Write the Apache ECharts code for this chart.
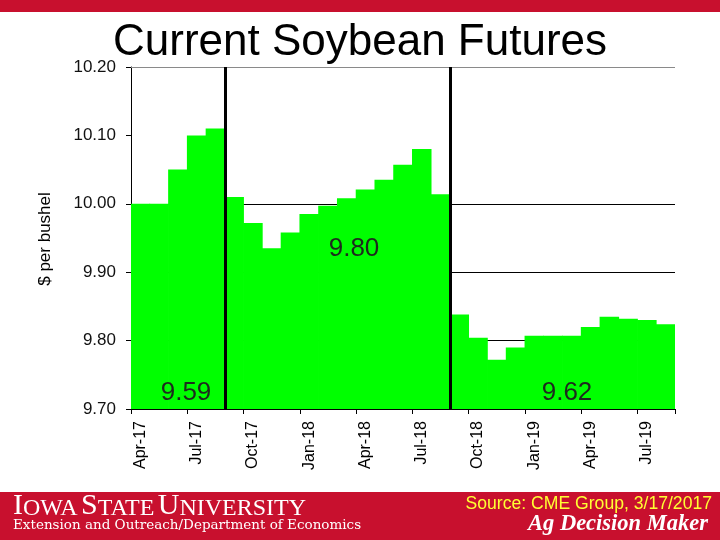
<!DOCTYPE html>
<html><head><meta charset="utf-8">
<script src="https://cdn.jsdelivr.net/npm/echarts@6/dist/echarts.min.js"></script>
<style>html,body{margin:0;padding:0;background:#fff}#c{width:720px;height:540px}</style>
</head><body><div id="c"></div>
<script>
// Monthly contract months (Apr-17 .. Aug-19)
const months = ['Apr-17','May-17','Jun-17','Jul-17','Aug-17','Sep-17','Oct-17','Nov-17','Dec-17',
  'Jan-18','Feb-18','Mar-18','Apr-18','May-18','Jun-18','Jul-18','Aug-18','Sep-18','Oct-18','Nov-18','Dec-18',
  'Jan-19','Feb-19','Mar-19','Apr-19','May-19','Jun-19','Jul-19','Aug-19'];
// $ per bushel
const prices = [10.00,10.00,10.05,10.10,10.11,10.01,9.972,9.935,9.958,
  9.985,9.997,10.008,10.021,10.035,10.057,10.080,10.014,9.838,9.804,9.772,9.790,
  9.807,9.807,9.807,9.820,9.835,9.832,9.830,9.824];
const yMin = 9.70, yMax = 10.20, yStep = 0.10;
const gridLevels = [9.80, 9.90, 10.00];
const topLevel = [10.20];
const rollBoundaries = [5, 17];           // month index where a new crop year starts
const averageLabels = ['9.59', '9.80', '9.62'];
const titleText = 'Current Soybean Futures';
const yAxisName = '$ per bushel';
const sourceText = 'Source: CME Group, 3/17/2017';

const chart = echarts.init(document.getElementById('c'), null, {renderer:'canvas'});
const red = '#C8102E';
const green = '#00FF00';
const sans = 'Liberation Sans, Arial, sans-serif';
const serif = 'Liberation Serif, Times New Roman, serif';

chart.setOption({
  animation: false,
  backgroundColor: '#fff',
  grid: {left:131, right:45, top:67, bottom:131, containLabel:false},
  xAxis: [{
    type:'category', data: months, boundaryGap:true,
    axisLine:{show:true, lineStyle:{color:'#000', width:1}},
    axisTick:{show:true, interval:(i)=> i%3===0, length:5, lineStyle:{color:'#000'}},
    axisLabel:{interval:(i)=> i%3===0, rotate:90, margin:12, fontSize:16, color:'#000', fontFamily:sans},
    splitLine:{show:false}
  },{
    type:'value', min:0, max:months.length, show:false
  }],
  yAxis: {
    type:'value', min:yMin, max:yMax, interval:yStep,
    splitLine:{show:false},
    axisLine:{show:true, lineStyle:{color:'#000', width:1}},
    axisTick:{show:true, length:5, lineStyle:{color:'#000'}},
    axisLabel:{formatter:(v)=>v.toFixed(2), fontSize:17, margin:15, color:'#111', fontFamily:sans}
  },
  series: [
    {type:'line', xAxisIndex:1, data:[], z:1, silent:true,
      markLine:{z:1, silent:true, symbol:'none', animation:false, label:{show:false},
        lineStyle:{color:'#000', width:1, type:'solid'},
        data: gridLevels.map(v=>({yAxis:v})).concat(topLevel.map(v=>({yAxis:v, lineStyle:{color:'#8a8a8a', width:1, type:'solid'}})))}},
    {type:'bar', data: prices, z:3, barWidth:'104%',
      itemStyle:{color:green}, emphasis:{disabled:true}},
    {type:'line', xAxisIndex:1, data:[], z:6, silent:true,
      markLine:{z:6, silent:true, symbol:'none', animation:false, label:{show:false},
        lineStyle:{color:'#000', width:3, type:'solid'},
        data: rollBoundaries.map(v=>({xAxis:v}))}}
  ],
  graphic: [
    {type:'rect', shape:{x:0,y:0,width:720,height:12}, style:{fill:red}, z:10},
    {type:'rect', shape:{x:0,y:492,width:720,height:48}, style:{fill:red}, z:10},
    {type:'text', x:360, y:43, style:{text:titleText, font:'44px '+sans, fill:'#000', align:'center', verticalAlign:'middle'}, z:10},
    {type:'text', x:45, y:239, rotation:Math.PI/2, style:{text:yAxisName, font:'17px '+sans, fill:'#000', align:'center', verticalAlign:'middle'}, z:10},
    {type:'text', x:186, y:393, style:{text:averageLabels[0], font:'26px '+sans, fill:'#1e2a1e', align:'center', verticalAlign:'middle'}, z:10},
    {type:'text', x:354, y:249, style:{text:averageLabels[1], font:'26px '+sans, fill:'#1e2a1e', align:'center', verticalAlign:'middle'}, z:10},
    {type:'text', x:567, y:393, style:{text:averageLabels[2], font:'26px '+sans, fill:'#1e2a1e', align:'center', verticalAlign:'middle'}, z:10},
    {type:'text', x:13, y:521, z:11, style:{
      text:'{b|I}{s|OWA} {b|S}{s|TATE} {b|U}{s|NIVERSITY}', align:'left', verticalAlign:'bottom',
      rich:{b:{fontSize:30, fontFamily:serif, fill:'#fff', color:'#fff', verticalAlign:'bottom'}, s:{fontSize:24, fontFamily:serif, fill:'#fff', color:'#fff', verticalAlign:'bottom'}}}},
    {type:'text', x:13, y:525, z:11, style:{text:'Extension and Outreach/Department of Economics', font:'13.5px DejaVu Serif, serif', fill:'#fff', align:'left', verticalAlign:'middle'}},
    {type:'text', x:712, y:504, z:11, style:{text:sourceText, font:'17.6px '+sans, fill:'#FFFF33', align:'right', verticalAlign:'middle'}},
    {type:'text', x:708, y:524, z:11, style:{text:'Ag Decision Maker', font:'italic bold 22.5px '+serif, fill:'#fff', align:'right', verticalAlign:'middle'}}
  ]
});
</script>
</body></html>
